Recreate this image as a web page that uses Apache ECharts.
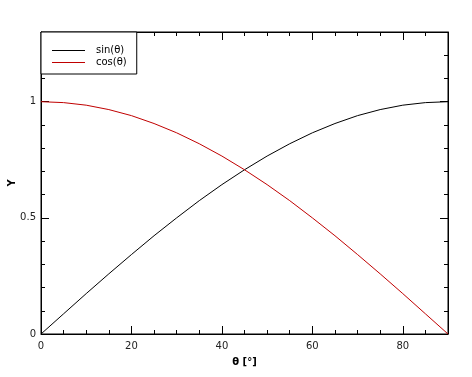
<!DOCTYPE html>
<html>
<head>
<meta charset="utf-8">
<script src="https://cdn.jsdelivr.net/npm/echarts@6/dist/echarts.min.js"></script>
<style>html,body{margin:0;padding:0;background:#fff;}#c{width:472px;height:377px;}</style>
</head>
<body>
<div id="c"></div>
<script>
var theta = [0, 5, 10, 15, 20, 25, 30, 35, 40, 45, 50, 55, 60, 65, 70, 75, 80, 85, 90];
var sinVals = [0, 0.087, 0.174, 0.259, 0.342, 0.423, 0.5, 0.574, 0.643, 0.707, 0.766, 0.819, 0.866, 0.906, 0.94, 0.966, 0.985, 0.996, 1.0];
var cosVals = [1.0, 0.996, 0.985, 0.966, 0.94, 0.906, 0.866, 0.819, 0.766, 0.707, 0.643, 0.574, 0.5, 0.423, 0.342, 0.259, 0.174, 0.087, 0];
var seriesNames = ['sin(θ)', 'cos(θ)'];
var xTicks = [0, 20, 40, 60, 80];
var yTicks = [0, 0.5, 1];

var chart = echarts.init(document.getElementById('c'));
var font = 'DejaVu Sans';
function xAx(pos, interval, len, labels, line) {
  return {
    type: 'value', position: pos, min: 0, max: 90, interval: interval,
    axisLine: {show: line, onZero: false, lineStyle: {color: '#000', width: 1}},
    axisTick: {show: true, inside: true, length: len, lineStyle: {color: '#000', width: 1}},
    axisLabel: {show: labels, margin: 7, color: '#222', fontFamily: font, fontSize: 10, showMaxLabel: false,
      formatter: function (v) { return xTicks.indexOf(v) >= 0 ? String(v) : ''; }},
    splitLine: {show: false}
  };
}
function yAx(pos, interval, len, labels, line) {
  return {
    type: 'value', position: pos, min: 0, max: 1.3, interval: interval,
    axisLine: {show: line, onZero: false, lineStyle: {color: '#000', width: 1}},
    axisTick: {show: true, inside: true, length: len, lineStyle: {color: '#000', width: 1}},
    axisLabel: {show: labels, margin: 5, color: '#222', fontFamily: font, fontSize: 10, showMaxLabel: false,
      formatter: function (v) { return yTicks.indexOf(v) >= 0 ? String(v) : ''; }},
    splitLine: {show: false}
  };
}
var x0 = xAx('bottom', 20, 8, true, true);
x0.name = 'θ [°]';
x0.nameLocation = 'middle';
x0.nameGap = 23;
x0.nameMoveOverlap = false;
x0.nameTextStyle = {fontFamily: font, fontSize: 10, fontWeight: 'bold', color: '#000'};
var y0 = yAx('left', 0.5, 8, true, true);
y0.name = 'Y';
y0.nameLocation = 'middle';
y0.nameGap = 24;
y0.nameMoveOverlap = false;
y0.nameTextStyle = {fontFamily: font, fontSize: 10, fontWeight: 'bold', color: '#000'};

chart.setOption({
  animation: false,
  backgroundColor: '#fff',
  grid: {left: 41, right: 24, top: 32, bottom: 43, containLabel: false, outerBoundsMode: 'none',
         show: true, borderColor: '#000', borderWidth: 1, backgroundColor: '#fff'},
  legend: {
    left: 41, top: 32, orient: 'vertical', icon: 'rect',
    backgroundColor: '#fff', borderColor: '#000', borderWidth: 1, borderRadius: 0,
    padding: [12.5, 10, 5.5, 11], itemGap: 0, itemWidth: 33, itemHeight: 1,
    textStyle: {fontFamily: font, fontSize: 10, color: '#000', padding: [0, 0, 0, 6], lineHeight: 12},
    data: seriesNames
  },
  xAxis: [x0, xAx('bottom', 5, 4, false, false), xAx('top', 20, 8, false, true), xAx('top', 5, 4, false, false)],
  yAxis: [y0, yAx('left', 0.1, 4, false, false), yAx('right', 0.5, 8, false, true), yAx('right', 0.1, 4, false, false)],
  series: [
    {name: seriesNames[0], type: 'line', symbol: 'none', xAxisIndex: 0, yAxisIndex: 0,
     lineStyle: {color: '#000', width: 1}, itemStyle: {color: '#000'},
     data: theta.map(function (t, i) { return [t, sinVals[i]]; })},
    {name: seriesNames[1], type: 'line', symbol: 'none', xAxisIndex: 0, yAxisIndex: 0,
     lineStyle: {color: '#c00000', width: 1}, itemStyle: {color: '#c00000'},
     data: theta.map(function (t, i) { return [t, cosVals[i]]; })}
  ]
});
</script>
</body>
</html>
